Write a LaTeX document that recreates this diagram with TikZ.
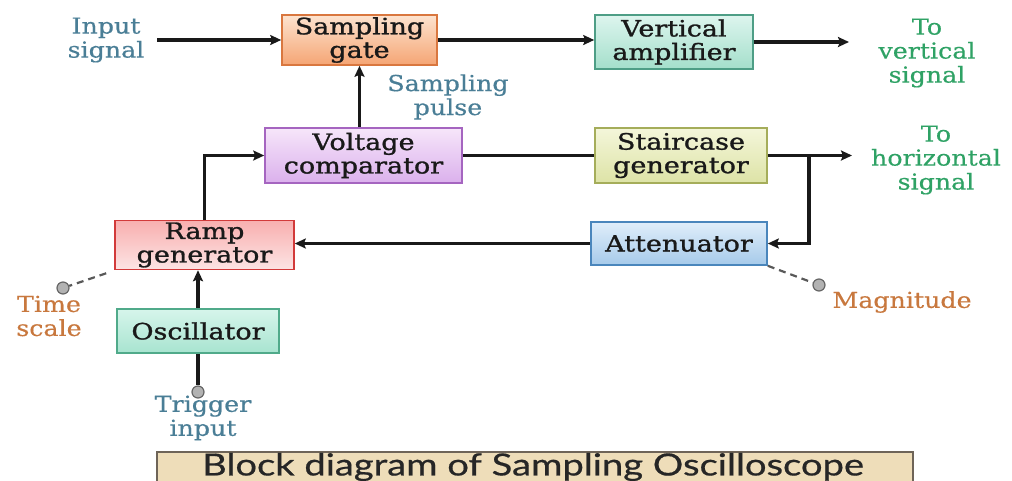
\documentclass[tikz,border=0pt]{standalone}
\usepackage{fontspec}
\setmainfont{DejaVu Serif}[FakeStretch=1.15, FakeBold=0.4]
\newfontfamily\blkfont{DejaVu Serif}[FakeStretch=1.2, FakeBold=1.2]
\newfontfamily\capfont{Lato}[FakeStretch=1.25, FakeBold=0.6]
\usetikzlibrary{arrows.meta,calc}

% block fills (top / bottom) and borders
\definecolor{sgT}{HTML}{FDE3CF}\definecolor{sgB}{HTML}{F5A574}\definecolor{sgD}{HTML}{D9773F}
\definecolor{vaT}{HTML}{DDF5EE}\definecolor{vaB}{HTML}{A4DFCB}\definecolor{vaD}{HTML}{4E9E86}
\definecolor{vcT}{HTML}{F6E6FA}\definecolor{vcB}{HTML}{DBB0EC}\definecolor{vcD}{HTML}{A565C0}
\definecolor{scT}{HTML}{F4F6DA}\definecolor{scB}{HTML}{DDE3A6}\definecolor{scD}{HTML}{A5AD5A}
\definecolor{rgT}{HTML}{F8AFAF}\definecolor{rgB}{HTML}{FCE4E4}\definecolor{rgD}{HTML}{D23A3A}
\definecolor{osT}{HTML}{D6F5EB}\definecolor{osB}{HTML}{A8E4D0}\definecolor{osD}{HTML}{50AA8A}
\definecolor{atT}{HTML}{E0EEFA}\definecolor{atB}{HTML}{A6CAEA}\definecolor{atD}{HTML}{4A86BC}
% label colours
\definecolor{lblBlue}{HTML}{4A7E96}
\definecolor{lblGreen}{HTML}{2FA265}
\definecolor{lblOrange}{HTML}{C8783E}
\definecolor{capF}{HTML}{EEDDB9}\definecolor{capD}{HTML}{6E6458}

\begin{document}
\begin{tikzpicture}[x=1pt,y=-1pt,
  lbl/.style={font=\fontsize{22}{24}\selectfont, align=center, inner sep=0pt},
  blk/.style={draw, line width=1.6pt, align=center, inner sep=2pt,
              font=\blkfont\fontsize{22.5}{23.5}\selectfont, text=black!90},
  wire/.style={line width=3.2pt, draw=black!90},
  arr/.style={wire, -{Stealth[length=11pt,width=10pt,inset=2pt]}},
  knobline/.style={line width=2.2pt, dash pattern=on 7pt off 5pt, draw=black!65},
  knob/.style={circle, draw=black!60, fill=black!30, line width=1.2pt,
               minimum size=12pt, inner sep=0pt}]
\useasboundingbox (0,0) rectangle (1012,480);

% blocks
\node[blk, top color=sgT, bottom color=sgB, draw=sgD, minimum width=155pt, minimum height=50pt] (sg) at (359.5,40) {Sampling\\gate};
\node[blk, top color=vaT, bottom color=vaB, draw=vaD, minimum width=158pt, minimum height=54pt] (va) at (674,42) {Vertical\\amplifier};
\node[blk, top color=vcT, bottom color=vcB, draw=vcD, minimum width=197pt, minimum height=55pt] (vc) at (363.5,155.5) {Voltage\\comparator};
\node[blk, top color=scT, bottom color=scB, draw=scD, minimum width=172pt, minimum height=55pt] (sc) at (681,155.5) {Staircase\\generator};
\node[blk, top color=rgT, bottom color=rgB, draw=rgD, minimum width=179pt, minimum height=46pt] (rg) at (204.5,245) {Ramp\\generator};
\node[blk, top color=osT, bottom color=osB, draw=osD, minimum width=162pt, minimum height=44pt] (os) at (198,331) {Oscillator};
\node[blk, top color=atT, bottom color=atB, draw=atD, minimum width=176pt, minimum height=43pt] (at) at (679,243.5) {Attenuator};

% labels
\node[lbl, text=lblBlue] (inL) at (106,40) {Input\\signal};
\node[lbl, text=lblBlue] (spL) at (448,97) {Sampling\\pulse};
\node[lbl, text=lblGreen] (tvL) at (927,53) {To\\vertical\\signal};
\node[lbl, text=lblGreen] (thL) at (936,160) {To\\horizontal\\signal};
\node[lbl, text=lblOrange] (tsL) at (49,316) {Time\\scale};
\node[lbl, text=lblBlue] (tiL) at (203,418) {Trigger\\input};
\node[lbl, text=lblOrange] (mgL) at (902,302) {Magnitude};

% free ends and branch points
\coordinate (inEnd) at (157,40);
\coordinate (vOut) at (849,42);
\coordinate (hOut) at (852,155.5);
\coordinate (tap) at (809,155.5);

% signal path
\draw[arr] (inEnd) -- (sg.west);
\draw[arr] (sg.east) -- (sg.east -| va.west);
\draw[arr] (va.east) -- (vOut);
\draw[arr] (vc.north -| sg.south) -- (sg.south);
\draw[wire] (vc.east) -- (sc.west);
\draw[arr] (sc.east) -- (hOut);
\draw[arr] (tap) |- (at.east);
\draw[arr] (at.west) -- (at.west -| rg.east);
\draw[arr] (rg.north) |- (vc.west);
\draw[arr] (os.north) -- (os.north |- rg.south);

% terminals
\node[knob] (trig) at (198,392) {};
\draw[wire] (os.south) -- (trig.north);
\node[knob] (tsk) at (63,288) {};
\coordinate (rgC) at ($(rg.south west)+(-8,3)$);
\draw[knobline] (rgC) -- (tsk);
\node[knob] (mag) at (819,285) {};
\draw[knobline] (at.south east) -- (mag);

% caption
\node[draw=capD, line width=1.5pt, fill=capF, minimum width=756pt, minimum height=44pt,
      anchor=north west, inner sep=0pt] (capbox) at (156,451) {};
\node[font=\capfont\fontsize{30.5}{31}\selectfont, text=black!85, inner sep=0pt] (cap) at (533,467) {Block diagram of Sampling Oscilloscope};
\end{tikzpicture}
\end{document}
